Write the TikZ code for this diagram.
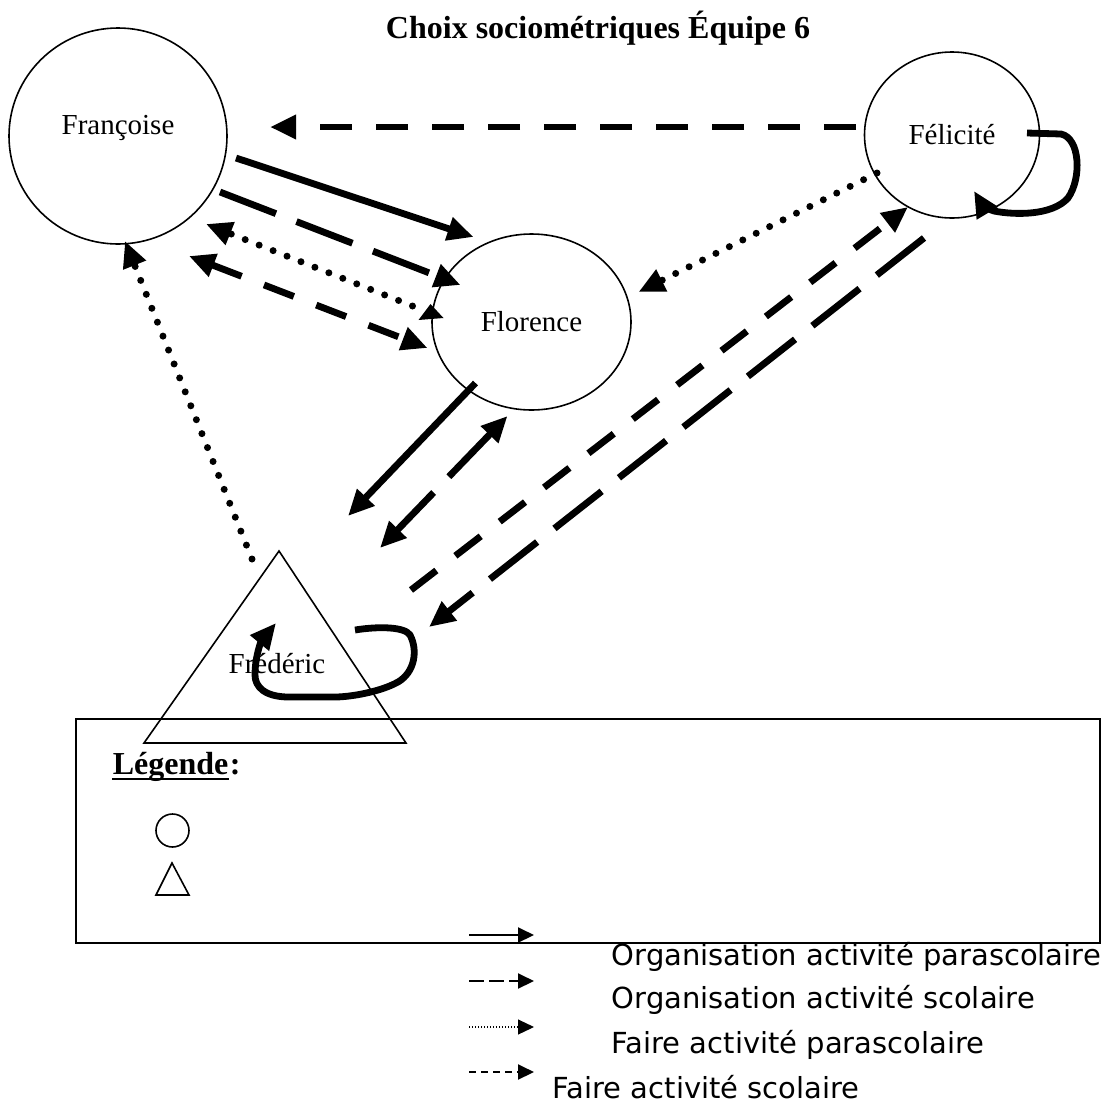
\documentclass[tikz,border=0pt]{standalone}
\usepackage{fontspec}
\setmainfont{Liberation Serif}
\newfontfamily\legfont{DejaVu Sans}
\usetikzlibrary{arrows.meta,shapes.geometric,calc}

\begin{document}
\begin{tikzpicture}[x=0.5pt,y=-0.5pt,thick,
  pers/.style={draw,ellipse,inner sep=0pt,font=\fontsize{14.5}{17}\selectfont},
  fleche/.style={-{Triangle[length=13pt,width=11.5pt]}},
  deuxfl/.style={{Triangle[length=13pt,width=11.5pt]}-{Triangle[length=13pt,width=11.5pt]}},
  plein/.style={line width=3.4pt},
  tiretlong/.style={line width=3.4pt,dash pattern=on 30pt off 11pt},
  tiret/.style={line width=3.4pt,dash pattern=on 16pt off 12pt},
  pointille/.style={line width=3.5pt,line cap=round,dash pattern=on 0pt off 7.5pt},
  legfl/.style={line width=1pt,-{Triangle[length=8pt,width=7.5pt]}},
  leg/.style={anchor=base west,inner sep=0pt,font=\legfont\fontsize{14.5}{17}\selectfont}]
\useasboundingbox (0,0) rectangle (1119,1104);
\node[anchor=base,font=\bfseries\fontsize{16}{19}\selectfont] (titre) at (598,38) {Choix sociométriques Équipe 6};
\node[pers,minimum width=109pt,minimum height=108pt,
  label={[anchor=base,yshift=4pt,font=\fontsize{14.5}{17}\selectfont]center:Françoise}] (A) at (118,136) {};
\node[pers,minimum width=99.5pt,minimum height=88pt] (B) at (531.5,322) {Florence};
\node[pers,minimum width=87.5pt,minimum height=83pt] (C) at (952,135) {Félicité};
\coordinate (E) at (279,551);
\coordinate (F) at (144,743);
\coordinate (G) at (406,743);
\draw (E)--(F)--(G)--cycle;
\node[font=\fontsize{14.5}{17}\selectfont] (D) at (277,664) {Frédéric};
\draw (76,719) rectangle (1100,943);
\node[anchor=base west,inner sep=0pt,font=\bfseries\fontsize{16}{19}\selectfont] (lg) at (112,774) {Légende};
\node[anchor=base west,inner sep=0pt,font=\bfseries\fontsize{16}{19}\selectfont] (lgc) at (lg.base east) {:};
\draw[line width=1.3pt] ([yshift=-2.5pt]lg.base west) -- ([yshift=-2.5pt]lg.base east);
\draw (172.5,830.5) circle[radius=8.25pt];
\draw (172,863) -- (156,895) -- (189,895) -- cycle;
\draw[tiret,fleche] ($(C)+(-96,-8)$) -- ($(A)+(152,-9)$);
\draw[plein,fleche] ($(A)+(118,22)$) -- ($(B)+(-58,-85)$);
\draw[tiretlong,fleche] ($(A)+(102,56)$) -- ($(B)+(-71,-37)$);
\draw[pointille,fleche] ($(B)+(-119,-16)$) -- ($(A)+(88,88)$);
\fill ($(B)+(-101,-18)$) -- ++(-12,16) -- ++(25,-2) -- cycle;
\draw[tiret,deuxfl] ($(A)+(71,120)$) -- ($(B)+(-104,26)$);
\draw[pointille,fleche] ($(C)+(-75,38)$) -- ($(B)+(107,-30)$);
\draw[tiret,fleche] ($(E)+(132,39)$) -- ($(C)+(-44,72)$);
\draw[tiretlong,fleche] ($(C)+(-28,103)$) -- ($(E)+(150,76)$);
\draw[plein,fleche] ($(B)+(-56,61)$) -- ($(E)+(69,-35)$);
\draw[tiretlong,deuxfl] ($(B)+(-24,94)$) -- ($(E)+(101,-3)$);
\draw[pointille,fleche] ($(E)+(-27,8)$) -- ($(A)+(7,105)$);
\draw[plein,fleche] ($(C)+(75,-2)$) -- ($(C)+(109,-1)$) .. controls ($(C)+(128,3)$) and ($(C)+(130,43)$) .. ($(C)+(116,63)$)
  .. controls ($(C)+(100,81)$) and ($(C)+(62,80)$) .. ($(C)+(42,76)$) .. controls ($(C)+(34,74)$) and ($(C)+(28,66)$) .. ($(C)+(22,56)$);
\draw[plein,fleche] ($(D)+(78,-34)$) .. controls ($(D)+(103,-38)$) and ($(D)+(128,-37)$) .. ($(D)+(133,-29)$)
  .. controls ($(D)+(141,-14)$) and ($(D)+(138,8)$) .. ($(D)+(121,18)$) .. controls ($(D)+(103,28)$) and ($(D)+(73,33)$) .. ($(D)+(58,33)$)
  -- ($(D)+(12,33)$) .. controls ($(D)+(-12,33)$) and ($(D)+(-22,23)$) .. ($(D)+(-22,11)$)
  .. controls ($(D)+(-22,-9)$) and ($(D)+(-15,-24)$) .. ($(D)+(-1,-41)$);
\draw[legfl] (469,935) -- (534,935);
\draw[legfl,dash pattern=on 7.5pt off 2.5pt] (469,981) -- (534,981);
\draw[legfl,line width=0.6pt,dash pattern=on 0.6pt off 0.9pt] (469,1027) -- (534,1027);
\draw[legfl,dash pattern=on 3.5pt off 2.5pt] (469,1072) -- (534,1072);
\node[leg] (l1) at (611,965) {Organisation activité parascolaire};
\node[leg] (l2) at (611,1008) {Organisation activité scolaire};
\node[leg] (l3) at (611,1053) {Faire activité parascolaire};
\node[leg] (l4) at (552,1098) {Faire activité scolaire};
\end{tikzpicture}
\end{document}
